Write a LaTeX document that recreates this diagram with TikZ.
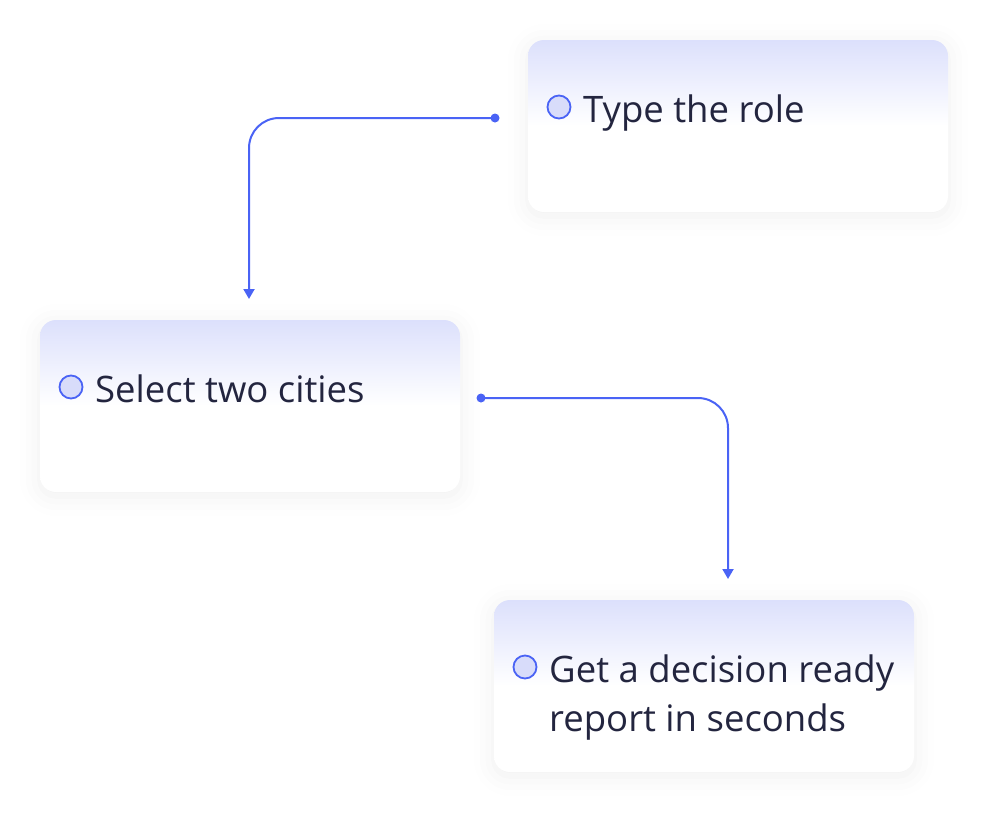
\documentclass[tikz,border=0pt]{standalone}
\usepackage{fontspec}
\setmainfont{Open Sans}
\usetikzlibrary{arrows.meta,shadows.blur,calc}
\definecolor{lav}{HTML}{DCE0FC}
\definecolor{lineblue}{HTML}{4A63F5}
\definecolor{ink}{HTML}{23253F}
\definecolor{dotfill}{HTML}{D8DCFA}
\pgfdeclareverticalshading{cardshade}{100bp}{color(0bp)=(white); color(50bp)=(white); color(75bp)=(lav); color(100bp)=(lav)}
\tikzset{
  card/.style={rectangle, rounded corners=16pt, minimum width=420pt, minimum height=172pt,
    shading=cardshade, draw=none,
    blur shadow={shadow xshift=0pt, shadow yshift=-4pt, shadow blur radius=20pt, shadow opacity=6}},
  bullet/.style={circle, draw=lineblue, line width=1.8pt, fill=dotfill, minimum size=23pt, inner sep=0pt},
  label/.style={anchor=base west, text=ink, font=\fontsize{36.5}{49}\selectfont, inner sep=0pt, align=left},
  conn/.style={draw=lineblue, line width=2pt, rounded corners=30pt, -{Triangle[width=11pt,length=10pt]}},
  startdot/.style={circle, fill=lineblue, minimum size=9pt, inner sep=0pt}
}
\begin{document}
\begin{tikzpicture}[x=1pt,y=-1pt]
\useasboundingbox (0,0) rectangle (988,812);
\node[card] (card1) at (738,126) {};
\node[card] (card2) at (250,406) {};
\node[card] (card3) at (704,686) {};
\node[bullet] (b1) at (559,107) {};
\node[label] (t1) at (583,122) {Type the role};
\node[bullet] (b2) at (71,387) {};
\node[label] (t2) at (95,402) {Select two cities};
\node[bullet] (b3) at (525,667) {};
\node[label, anchor=north west] (t3) at (549,654.5) {Get a decision ready\\report in seconds};
\node[startdot] (d1) at (495,118) {};
\node[startdot] (d2) at (481,398) {};
\coordinate (e1) at (249,299);
\coordinate (e2) at (728,579);
\draw[conn] (d1.center) -| (e1);
\draw[conn] (d2.center) -| (e2);
\end{tikzpicture}
\end{document}
